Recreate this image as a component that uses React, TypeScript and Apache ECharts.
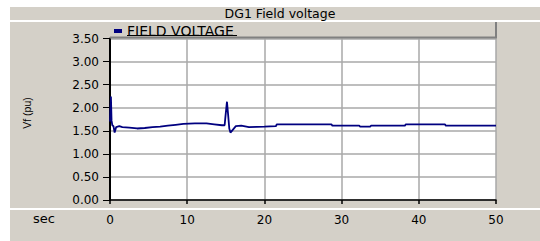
import React, { useEffect, useRef } from "react";
import * as echarts from "echarts";

const titleText = "DG1 Field voltage";
const seriesName = "FIELD VOLTAGE";
const yAxisName = "Vf (pu)";
const xAxisName = "sec";

const timeSec = [0, 0.12, 0.2, 0.3, 0.45, 0.6, 0.8, 1.2, 1.6, 2.5, 3.5, 4.5, 5.5, 6.5, 7.5, 8.5, 9.5, 11, 12.5, 13.5, 14.5, 14.85, 14.95, 15.15, 15.3, 15.45, 15.6, 15.9, 16.3, 17, 18, 20, 21.5, 21.6, 28.7, 28.8, 32.3, 32.4, 33.7, 33.8, 38.2, 38.3, 43.4, 43.5, 50];
const fieldVoltage = [1.7, 2.24, 1.72, 1.62, 1.6, 1.46, 1.58, 1.6, 1.58, 1.57, 1.55, 1.56, 1.58, 1.59, 1.61, 1.63, 1.65, 1.66, 1.66, 1.64, 1.62, 1.62, 1.8, 2.13, 1.85, 1.55, 1.46, 1.52, 1.6, 1.61, 1.58, 1.59, 1.6, 1.64, 1.64, 1.61, 1.61, 1.59, 1.59, 1.61, 1.61, 1.64, 1.64, 1.61, 1.61];

const xMin = 0;
const xMax = 50;
const xInterval = 10;
const yMin = 0;
const yMax = 3.5;
const yInterval = 0.5;

export default function App() {
  const ref = useRef<HTMLDivElement>(null);
  useEffect(() => {
    document.body.style.margin = "0";
    const chart = echarts.init(ref.current!, undefined, { renderer: "svg" });
    const data = timeSec.map((t, i) => [t, fieldVoltage[i]]);
    const panel = "#d4d0c8";
    chart.setOption({
      animation: false,
      backgroundColor: "#ffffff",
      title: {
        text: titleText,
        left: 280,
        top: 7,
        padding: 0,
        textAlign: "center",
        textStyle: { fontFamily: "DejaVu Sans", fontSize: 12.5, fontWeight: "normal", color: "#000" },
      },
      legend: {
        left: 114,
        top: 24,
        padding: 0,
        icon: "rect",
        itemWidth: 8,
        itemHeight: 4,
        data: [seriesName],
        textStyle: { fontFamily: "DejaVu Sans", fontSize: 14, color: "#000" },
      },
      grid: {
        left: 110,
        top: 38.5,
        width: 386,
        height: 161.5,
        show: true,
        backgroundColor: "#ffffff",
        borderWidth: 0,
      },
      xAxis: {
        type: "value",
        min: xMin,
        max: xMax,
        interval: xInterval,
        offset: 10.5,
        axisLine: { show: true, lineStyle: { color: "#000", width: 1.5 } },
        axisTick: { show: true, length: 4, lineStyle: { color: "#000", width: 1.5 } },
        axisLabel: { margin: 3, fontFamily: "DejaVu Sans", fontSize: 12, color: "#000" },
        splitLine: { show: true, lineStyle: { color: "#a8a8a8", width: 1.5 } },
      },
      yAxis: {
        type: "value",
        min: yMin,
        max: yMax,
        interval: yInterval,
        axisLine: { show: true, lineStyle: { color: "#000", width: 2 } },
        axisTick: { show: true, length: 7, lineStyle: { color: "#000", width: 1 } },
        axisLabel: {
          margin: 11,
          fontFamily: "DejaVu Sans",
          fontSize: 12,
          color: "#000",
          formatter: (v: number) => v.toFixed(2),
        },
        splitLine: { show: true, lineStyle: { color: "#a8a8a8", width: 1.5 } },
      },
      graphic: [
        { type: "rect", z: -100, shape: { x: 10, y: 7, width: 530, height: 234 }, style: { fill: panel } },
        { type: "rect", z: -99, shape: { x: 10, y: 20, width: 530, height: 2 }, style: { fill: "#ffffff" } },
        { type: "rect", z: -99, shape: { x: 10, y: 208, width: 530, height: 2 }, style: { fill: "#ffffff" } },
        { type: "line", z: 100, shape: { x1: 110, y1: 37.5, x2: 497, y2: 37.5 }, style: { stroke: "#808080", lineWidth: 2 } },
        { type: "line", z: 100, shape: { x1: 496, y1: 22, x2: 496, y2: 38 }, style: { stroke: "#808080", lineWidth: 2 } },
        { type: "line", z: 100, shape: { x1: 127, y1: 35.5, x2: 237, y2: 35.5 }, style: { stroke: "#000", lineWidth: 1 } },
        {
          type: "text",
          z: 100,
          x: 27,
          y: 113,
          rotation: Math.PI / 2,
          style: { text: yAxisName, fontFamily: "Liberation Sans", fontSize: 10.5, fill: "#000", align: "center", verticalAlign: "middle" },
        },
        {
          type: "text",
          z: 100,
          x: 44,
          y: 218,
          style: { text: xAxisName, fontFamily: "DejaVu Sans", fontSize: 13, fill: "#000", align: "center", verticalAlign: "middle" },
        },
      ],
      series: [
        {
          name: seriesName,
          type: "line",
          data,
          showSymbol: false,
          symbol: "none",
          color: "#000080",
          lineStyle: { color: "#000080", width: 1.8 },
        },
      ],
    });
    return () => chart.dispose();
  }, []);
  return <div ref={ref} style={{ width: 540, height: 241 }} />;
}
